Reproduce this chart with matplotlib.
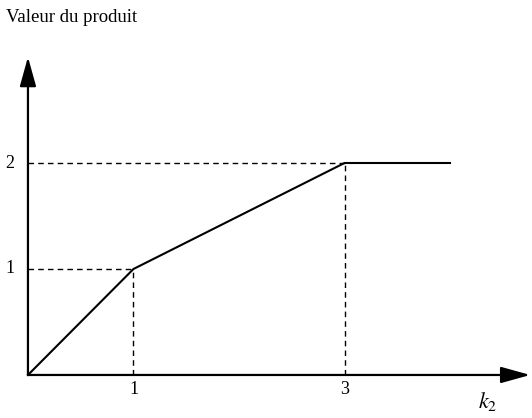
import matplotlib.pyplot as plt

plt.rcParams["font.family"] = ["Liberation Serif", "DejaVu Serif"]
plt.rcParams["mathtext.fontset"] = "stix"

# %% Data
curve_x = [0, 1, 3, 4]
curve_y = [0, 1, 2, 2]
guide_points = [(1, 1), (3, 2)]
x_ticks = [1, 3]
y_ticks = [1, 2]
y_title = "Valeur du produit"
x_title = "$k_2$"

# %% Figure
fig = plt.figure(figsize=(5.32, 4.18), dpi=100)
ax = fig.add_axes([0, 0, 1, 1])
ax.set_xlim(-0.265, 4.777)
ax.set_ylim(-0.406, 3.538)
ax.axis("off")

# axes with arrow heads
arrow = dict(arrowstyle="-|>,head_length=0.9,head_width=0.25",
             mutation_scale=20, color="black", lw=1.6,
             shrinkA=0, shrinkB=0)
ax.annotate("", xy=(4.76, 0), xytext=(0, 0), arrowprops=arrow)
ax.annotate("", xy=(0, 3.0), xytext=(0, 0), arrowprops=arrow)

# dashed guides
for gx, gy in guide_points:
    ax.plot([0, gx], [gy, gy], color="black", lw=1.0, ls=(0, (4, 3)))
    ax.plot([gx, gx], [0, gy], color="black", lw=1.0, ls=(0, (4, 3)))

ax.plot(curve_x, curve_y, color="black", lw=1.5, solid_joinstyle="miter")

# tick labels
for t in x_ticks:
    ax.text(t, -0.14, str(t), ha="center", va="center", fontsize=13)
for t in y_ticks:
    ax.text(-0.17, t, str(t), ha="center", va="center", fontsize=13)

ax.text(4.36, -0.25, x_title, ha="center", va="center", fontsize=16)
fig.text(6 / 532, 1 - 17 / 418, y_title, ha="left", va="center", fontsize=13.5)

fig.savefig("out.png", dpi=100)
